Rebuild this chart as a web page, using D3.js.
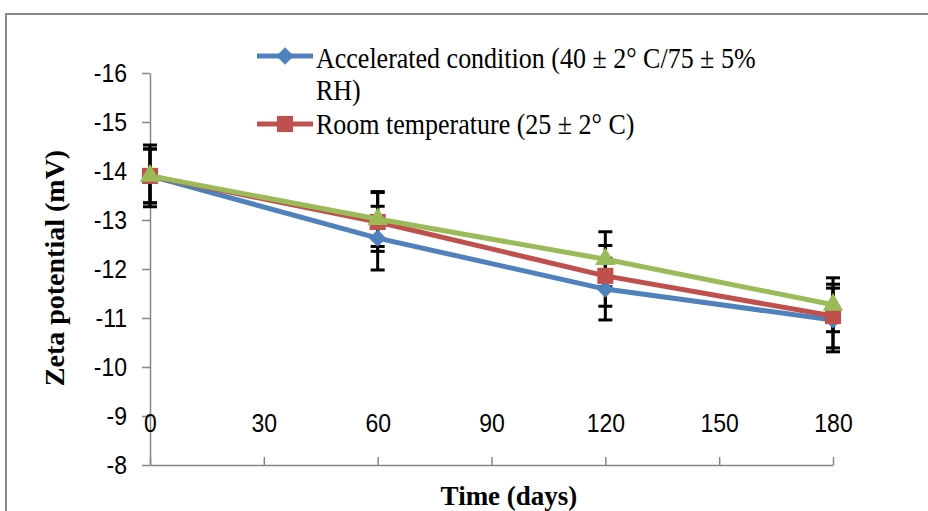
<!DOCTYPE html>
<html>
<head>
<meta charset="utf-8">
<script src="https://cdn.jsdelivr.net/npm/d3@7"></script>
<style>
  body { margin: 0; background: #fff; }
  svg { display: block; }
</style>
</head>
<body>
<svg id="chart" width="928" height="511"></svg>
<script>
var days = [0, 60, 120, 180]
var xTicks = [0, 30, 60, 90, 120, 150, 180]
var yTicks = [-16, -15, -14, -13, -12, -11, -10, -9, -8]

var accelerated = [-13.9, -12.63, -11.59, -10.96]
var acceleratedErr = [0.63, 0.65, 0.63, 0.65]
var room = [-13.9, -12.96, -11.86, -11.04]
var roomErr = [0.55, 0.6, 0.62, 0.65]
var third = [-13.9, -13.02, -12.2, -11.27]
var thirdErr = [0.55, 0.56, 0.56, 0.55]

var legendLabels = ["Accelerated condition (40 ± 2° C/75 ± 5%", "RH)", "Room temperature (25 ± 2° C)"]

var colors = { blue: "#4f81bd", red: "#c0504d", green: "#9bbb59", axis: "#868686" }

var series = [
  { name: "accelerated", values: accelerated, err: acceleratedErr, color: colors.blue, shape: d3.symbolDiamond2, size: 190 },
  { name: "room", values: room, err: roomErr, color: colors.red, shape: d3.symbolSquare2, size: 330 },
  { name: "third", values: third, err: thirdErr, color: colors.green, shape: d3.symbolTriangle2, size: 300 }
]

var svg = d3.select("#chart")

// outer frame (only top and left edges show)
svg.append("path")
  .attr("d", "M6,511 L6,14 L928,14")
  .attr("fill", "none")
  .attr("stroke", "#898989")
  .attr("stroke-width", 2)

var x = d3.scaleLinear().domain([0, 180]).range([150, 833])
var y = d3.scaleLinear().domain([-16, -8]).range([73, 465])

var yAxis = svg.append("g")
  .attr("transform", "translate(150,0)")
  .call(d3.axisLeft(y).tickValues(yTicks).tickSize(8).tickSizeOuter(0).tickPadding(15)
    .tickFormat(function(d) { return String(d) }))
var xAxis = svg.append("g")
  .attr("transform", "translate(0,465)")
  .call(d3.axisTop(x).tickValues(xTicks).tickSize(8).tickSizeOuter(0).tickPadding(25)
    .tickFormat(function(d) { return String(d) }))

;[yAxis, xAxis].forEach(function(g) {
  g.select(".domain").attr("stroke", colors.axis).attr("stroke-width", 1.5)
  g.selectAll(".tick line").attr("stroke", colors.axis).attr("stroke-width", 1.5)
  g.selectAll(".tick text")
    .attr("fill", "#000")
    .attr("font-family", "'Liberation Sans', Arial, sans-serif")
    .attr("font-size", 23)
})
// the original text is a little taller than it is wide
yAxis.selectAll(".tick text").attr("transform", "scale(1,1.1)")
xAxis.selectAll(".tick text").attr("y", -30).attr("transform", "scale(1,1.1)")

// error bars
var errG = svg.append("g")
series.forEach(function(s) {
  days.forEach(function(d, i) {
    var cx = x(d)
    var y0 = y(s.values[i] - s.err[i])
    var y1 = y(s.values[i] + s.err[i])
    errG.append("line").attr("x1", cx).attr("x2", cx).attr("y1", y0).attr("y2", y1)
      .attr("stroke", "#000").attr("stroke-width", 3)
    ;[y0, y1].forEach(function(yy) {
      errG.append("line").attr("x1", cx - 7).attr("x2", cx + 7).attr("y1", yy).attr("y2", yy)
        .attr("stroke", "#000").attr("stroke-width", 3)
    })
  })
})

var line = d3.line()
  .x(function(d, i) { return x(days[i]) })
  .y(function(d) { return y(d) })

series.forEach(function(s) {
  svg.append("path")
    .datum(s.values)
    .attr("d", line)
    .attr("fill", "none")
    .attr("stroke", s.color)
    .attr("stroke-width", 5)
    .attr("stroke-linejoin", "round")
  svg.append("g").selectAll("path")
    .data(s.values)
    .enter()
    .append("path")
    .attr("transform", function(d, i) { return "translate(" + x(days[i]) + "," + y(d) + ")" })
    .attr("d", d3.symbol().type(s.shape).size(s.size))
    .attr("fill", s.color)
})

// legend
var legend = svg.append("g")
var legendRows = [
  { s: series[0], ly: 56, texts: [[legendLabels[0], 68], [legendLabels[1], 100]] },
  { s: series[1], ly: 124, texts: [[legendLabels[2], 134]] }
]
legendRows.forEach(function(r) {
  legend.append("line")
    .attr("x1", 257).attr("x2", 313).attr("y1", r.ly).attr("y2", r.ly)
    .attr("stroke", r.s.color).attr("stroke-width", 5)
  legend.append("path")
    .attr("transform", "translate(285," + r.ly + ")")
    .attr("d", d3.symbol().type(r.s.shape).size(r.s.size))
    .attr("fill", r.s.color)
  r.texts.forEach(function(t) {
    legend.append("text")
      .attr("transform", "translate(316," + t[1] + ") scale(1,1.13)")
      .attr("font-family", "'Liberation Serif', 'Times New Roman', serif")
      .attr("font-size", 26)
      .text(t[0])
  })
})

// axis titles
svg.append("text")
  .attr("x", 509).attr("y", 505)
  .attr("text-anchor", "middle")
  .attr("font-family", "'Liberation Serif', 'Times New Roman', serif")
  .attr("font-weight", "bold")
  .attr("font-size", 27)
  .text("Time (days)")
svg.append("text")
  .attr("transform", "translate(64,268) rotate(-90)")
  .attr("text-anchor", "middle")
  .attr("font-family", "'Liberation Serif', 'Times New Roman', serif")
  .attr("font-weight", "bold")
  .attr("font-size", 28)
  .text("Zeta potential (mV)")
</script>
</body>
</html>
